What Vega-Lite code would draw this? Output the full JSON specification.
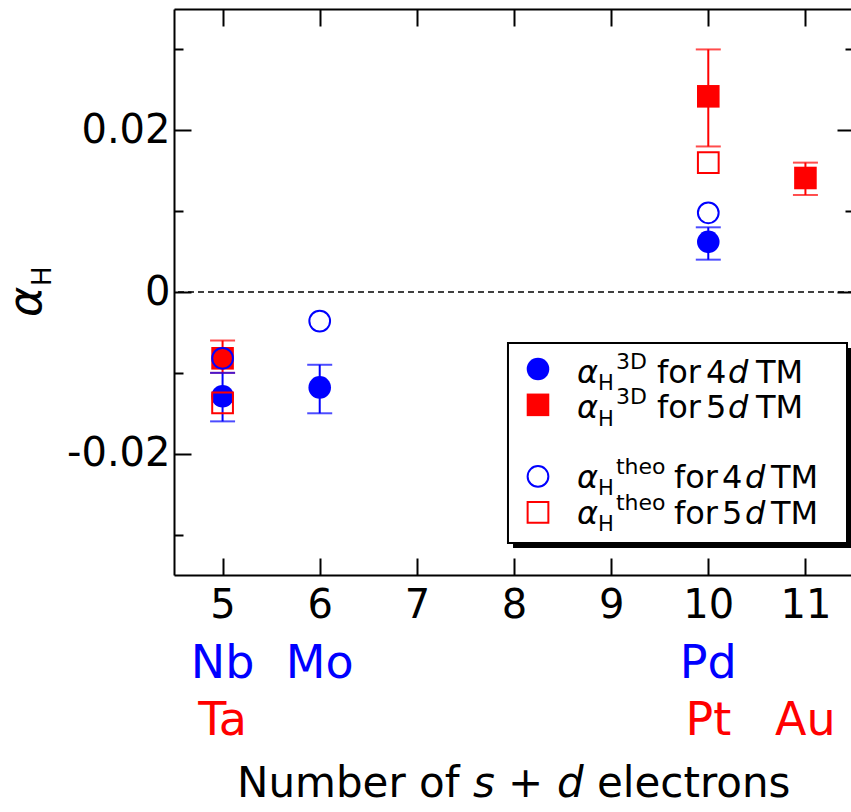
{
  "$schema": "https://vega.github.io/schema/vega-lite/v6.json",
  "width": 680,
  "height": 566,
  "autosize": {"type": "none"},
  "padding": {"left": 174, "top": 9, "right": -3, "bottom": 237},
  "config": {
    "font": "DejaVu Sans",
    "view": {"stroke": null},
    "text": {"font": "DejaVu Sans"},
    "axis": {
      "domainColor": "#000000",
      "domainWidth": 2,
      "tickColor": "#000000",
      "tickWidth": 2,
      "labelColor": "#000000",
      "labelFont": "DejaVu Sans",
      "labelFontSize": 40,
      "grid": false,
      "labelFlush": false,
      "labelOverlap": false,
      "labelBound": false,
      "title": null
    }
  },
  "layer": [
    {
      "data": {
        "values": [
          {"n": 5, "el": "Nb", "nd": "4d", "exp": -0.0129, "lo": -0.016, "hi": -0.010, "theo": -0.0082},
          {"n": 5, "el": "Ta", "nd": "5d", "exp": -0.0082, "lo": -0.010, "hi": -0.006, "theo": -0.0137},
          {"n": 6, "el": "Mo", "nd": "4d", "exp": -0.0118, "lo": -0.015, "hi": -0.009, "theo": -0.0036},
          {"n": 10, "el": "Pd", "nd": "4d", "exp": 0.0062, "lo": 0.004, "hi": 0.008, "theo": 0.0098},
          {"n": 10, "el": "Pt", "nd": "5d", "exp": 0.0242, "lo": 0.018, "hi": 0.030, "theo": 0.016},
          {"n": 11, "el": "Au", "nd": "5d", "exp": 0.0141, "lo": 0.012, "hi": 0.016, "theo": null}
        ]
      },
      "layer": [
        {
          "data": {"values": [{}]},
          "mark": {"type": "rule", "strokeDash": [6, 4], "strokeWidth": 1.5, "color": "#000000"},
          "encoding": {
            "y": {"datum": 0, "type": "quantitative", "scale": {"domain": [-0.035, 0.035], "nice": false, "zero": false}, "axis": null}
          }
        },
        {
          "mark": {"type": "rule", "strokeWidth": 2},
          "encoding": {
            "x": {"field": "n", "type": "quantitative", "scale": {"domain": [4.5, 11.5], "nice": false, "zero": false},
                  "axis": {"orient": "bottom", "values": [5, 6, 7, 8, 9, 10, 11], "format": "d", "tickSize": -17, "labelPadding": 27}},
            "y": {"field": "lo", "type": "quantitative", "scale": {"domain": [-0.035, 0.035], "nice": false, "zero": false},
                  "axis": {"orient": "left", "values": [-0.02, 0, 0.02], "tickSize": -17, "labelPadding": 21,
                           "labelExpr": "datum.value > 0 ? '0.02' : (datum.value < 0 ? '-0.02' : '0')"}},
            "y2": {"field": "hi"},
            "color": {"field": "nd", "type": "nominal", "scale": {"domain": ["4d", "5d"], "range": ["#0000ff", "#ff0000"]}, "legend": null}
          }
        },
        {
          "mark": {"type": "tick", "orient": "horizontal", "size": 25, "thickness": 2},
          "encoding": {
            "x": {"field": "n", "type": "quantitative", "scale": {"domain": [4.5, 11.5], "nice": false, "zero": false},
                  "axis": {"orient": "top", "values": [5, 6, 7, 8, 9, 10, 11], "tickSize": -17, "labels": false}},
            "y": {"field": "lo", "type": "quantitative", "scale": {"domain": [-0.035, 0.035], "nice": false, "zero": false},
                  "axis": {"orient": "right", "values": [-0.02, 0, 0.02], "tickSize": -17, "labels": false}},
            "color": {"field": "nd", "type": "nominal", "scale": {"domain": ["4d", "5d"], "range": ["#0000ff", "#ff0000"]}, "legend": null}
          }
        },
        {
          "mark": {"type": "tick", "orient": "horizontal", "size": 25, "thickness": 2},
          "encoding": {
            "x": {"field": "n", "type": "quantitative", "scale": {"domain": [4.5, 11.5], "nice": false, "zero": false}, "axis": null},
            "y": {"field": "hi", "type": "quantitative", "scale": {"domain": [-0.035, 0.035], "nice": false, "zero": false},
                  "axis": {"orient": "left", "values": [-0.03, -0.01, 0.01, 0.03], "tickSize": -9, "labels": false, "domain": false}},
            "color": {"field": "nd", "type": "nominal", "scale": {"domain": ["4d", "5d"], "range": ["#0000ff", "#ff0000"]}, "legend": null}
          }
        },
        {
          "mark": {"type": "point", "filled": true, "size": 510, "opacity": 1},
          "encoding": {
            "x": {"field": "n", "type": "quantitative", "scale": {"domain": [4.5, 11.5], "nice": false, "zero": false}, "axis": null},
            "y": {"field": "exp", "type": "quantitative", "scale": {"domain": [-0.035, 0.035], "nice": false, "zero": false},
                  "axis": {"orient": "right", "values": [-0.03, -0.01, 0.01, 0.03], "tickSize": -9, "labels": false, "domain": false}},
            "color": {"field": "nd", "type": "nominal", "scale": {"domain": ["4d", "5d"], "range": ["#0000ff", "#ff0000"]}, "legend": null},
            "shape": {"field": "nd", "type": "nominal", "scale": {"domain": ["4d", "5d"], "range": ["circle", "square"]}, "legend": null}
          }
        },
        {
          "transform": [{"filter": "isValid(datum.theo)"}],
          "mark": {"type": "point", "filled": false, "size": 430, "strokeWidth": 2, "opacity": 1},
          "encoding": {
            "x": {"field": "n", "type": "quantitative", "scale": {"domain": [4.5, 11.5], "nice": false, "zero": false}, "axis": null},
            "y": {"field": "theo", "type": "quantitative", "scale": {"domain": [-0.035, 0.035], "nice": false, "zero": false}, "axis": null},
            "color": {"field": "nd", "type": "nominal", "scale": {"domain": ["4d", "5d"], "range": ["#0000ff", "#ff0000"]}, "legend": null},
            "shape": {"field": "nd", "type": "nominal", "scale": {"domain": ["4d", "5d"], "range": ["circle", "square"]}, "legend": null}
          }
        },
        {
          "transform": [{"filter": "datum.nd == '4d'"}],
          "mark": {"type": "text", "fontSize": 46, "align": "center", "baseline": "alphabetic"},
          "encoding": {
            "x": {"field": "n", "type": "quantitative", "scale": {"domain": [4.5, 11.5], "nice": false, "zero": false}, "axis": null},
            "y": {"datum": -0.04774, "type": "quantitative", "scale": {"domain": [-0.035, 0.035], "nice": false, "zero": false}, "axis": null},
            "text": {"field": "el"},
            "color": {"field": "nd", "type": "nominal", "scale": {"domain": ["4d", "5d"], "range": ["#0000ff", "#ff0000"]}, "legend": null}
          }
        },
        {
          "transform": [{"filter": "datum.nd == '5d'"}],
          "mark": {"type": "text", "fontSize": 46, "align": "center", "baseline": "alphabetic"},
          "encoding": {
            "x": {"field": "n", "type": "quantitative", "scale": {"domain": [4.5, 11.5], "nice": false, "zero": false}, "axis": null},
            "y": {"datum": -0.05479, "type": "quantitative", "scale": {"domain": [-0.035, 0.035], "nice": false, "zero": false}, "axis": null},
            "text": {"field": "el"},
            "color": {"field": "nd", "type": "nominal", "scale": {"domain": ["4d", "5d"], "range": ["#0000ff", "#ff0000"]}, "legend": null}
          }
        },
        {
          "data": {"values": [{}]},
          "mark": {"type": "text", "text": "α", "angle": 270, "align": "left", "baseline": "alphabetic", "fontSize": 46, "fontStyle": "italic", "color": "#000000"},
          "encoding": {
            "x": {"datum": 3.1309, "type": "quantitative", "scale": {"domain": [4.5, 11.5], "nice": false, "zero": false}, "axis": null},
            "y": {"datum": -0.00309, "type": "quantitative", "scale": {"domain": [-0.035, 0.035], "nice": false, "zero": false}, "axis": null}
          }
        },
        {
          "data": {"values": [{}]},
          "mark": {"type": "text", "text": "H", "angle": 270, "align": "left", "baseline": "alphabetic", "fontSize": 26, "dx": 31, "dy": 10, "color": "#000000"},
          "encoding": {
            "x": {"datum": 3.1309, "type": "quantitative", "scale": {"domain": [4.5, 11.5], "nice": false, "zero": false}, "axis": null},
            "y": {"datum": -0.00309, "type": "quantitative", "scale": {"domain": [-0.035, 0.035], "nice": false, "zero": false}, "axis": null}
          }
        },
        {
          "data": {"values": [{"t": "Number of"}, {"t": "s"}, {"t": "+"}, {"t": "d"}, {"t": "electrons"}]},
          "layer": [
            {
              "transform": [{"filter": "datum.t == 'Number of'"}],
              "mark": {"type": "text", "align": "left", "baseline": "alphabetic", "fontSize": 42, "color": "#000000"},
              "encoding": {
                "x": {"datum": 5.1486, "type": "quantitative", "scale": {"domain": [4.5, 11.5], "nice": false, "zero": false}, "axis": null},
                "y": {"datum": -0.06245, "type": "quantitative", "scale": {"domain": [-0.035, 0.035], "nice": false, "zero": false}, "axis": null},
                "text": {"field": "t"}
              }
            },
            {
              "transform": [{"filter": "datum.t == 's'"}],
              "mark": {"type": "text", "align": "left", "baseline": "alphabetic", "fontSize": 42, "fontStyle": "italic", "dx": 236, "color": "#000000"},
              "encoding": {
                "x": {"datum": 5.1486, "type": "quantitative", "scale": {"domain": [4.5, 11.5], "nice": false, "zero": false}, "axis": null},
                "y": {"datum": -0.06245, "type": "quantitative", "scale": {"domain": [-0.035, 0.035], "nice": false, "zero": false}, "axis": null},
                "text": {"field": "t"}
              }
            },
            {
              "transform": [{"filter": "datum.t == '+'"}],
              "mark": {"type": "text", "align": "left", "baseline": "alphabetic", "fontSize": 42, "dx": 271, "color": "#000000"},
              "encoding": {
                "x": {"datum": 5.1486, "type": "quantitative", "scale": {"domain": [4.5, 11.5], "nice": false, "zero": false}, "axis": null},
                "y": {"datum": -0.06245, "type": "quantitative", "scale": {"domain": [-0.035, 0.035], "nice": false, "zero": false}, "axis": null},
                "text": {"field": "t"}
              }
            },
            {
              "transform": [{"filter": "datum.t == 'd'"}],
              "mark": {"type": "text", "align": "left", "baseline": "alphabetic", "fontSize": 42, "fontStyle": "italic", "dx": 320, "color": "#000000"},
              "encoding": {
                "x": {"datum": 5.1486, "type": "quantitative", "scale": {"domain": [4.5, 11.5], "nice": false, "zero": false}, "axis": null},
                "y": {"datum": -0.06245, "type": "quantitative", "scale": {"domain": [-0.035, 0.035], "nice": false, "zero": false}, "axis": null},
                "text": {"field": "t"}
              }
            },
            {
              "transform": [{"filter": "datum.t == 'electrons'"}],
              "mark": {"type": "text", "align": "left", "baseline": "alphabetic", "fontSize": 42, "dx": 360, "color": "#000000"},
              "encoding": {
                "x": {"datum": 5.1486, "type": "quantitative", "scale": {"domain": [4.5, 11.5], "nice": false, "zero": false}, "axis": null},
                "y": {"datum": -0.06245, "type": "quantitative", "scale": {"domain": [-0.035, 0.035], "nice": false, "zero": false}, "axis": null},
                "text": {"field": "t"}
              }
            }
          ]
        }
      ],
      "resolve": {"axis": {"x": "independent", "y": "independent"}}
    },
    {
      "data": {
        "values": [
          {"slot": 0, "kind": "3D", "nd": "4d", "num": "4"},
          {"slot": 1, "kind": "3D", "nd": "5d", "num": "5"},
          {"slot": 3, "kind": "theo", "nd": "4d", "num": "4"},
          {"slot": 4, "kind": "theo", "nd": "5d", "num": "5"}
        ]
      },
      "layer": [
        {
          "data": {"values": [{}]},
          "mark": {"type": "rect", "color": "#000000"},
          "encoding": {
            "x": {"datum": 7.99, "type": "quantitative", "scale": {"domain": [4.5, 11.5], "nice": false, "zero": false}, "axis": null},
            "x2": {"datum": 11.48},
            "y": {"datum": -0.586, "type": "quantitative", "scale": {"domain": [-10.05, 5.75], "reverse": true, "nice": false, "zero": false}, "axis": null},
            "y2": {"datum": 4.998}
          }
        },
        {
          "data": {"values": [{}]},
          "mark": {"type": "rect", "fill": "#ffffff", "stroke": "#000000", "strokeWidth": 2},
          "encoding": {
            "x": {"datum": 7.938, "type": "quantitative", "scale": {"domain": [4.5, 11.5], "nice": false, "zero": false}, "axis": null},
            "x2": {"datum": 11.428},
            "y": {"datum": -0.726, "type": "quantitative", "scale": {"domain": [-10.05, 5.75], "reverse": true, "nice": false, "zero": false}, "axis": null},
            "y2": {"datum": 4.858}
          }
        },
        {
          "transform": [{"filter": "datum.kind == '3D'"}],
          "mark": {"type": "point", "filled": true, "size": 510, "opacity": 1},
          "encoding": {
            "x": {"datum": 8.247, "type": "quantitative", "scale": {"domain": [4.5, 11.5], "nice": false, "zero": false}, "axis": null},
            "y": {"field": "slot", "type": "quantitative", "scale": {"domain": [-10.05, 5.75], "reverse": true, "nice": false, "zero": false}, "axis": null},
            "color": {"field": "nd", "type": "nominal", "scale": {"domain": ["4d", "5d"], "range": ["#0000ff", "#ff0000"]}, "legend": null},
            "shape": {"field": "nd", "type": "nominal", "scale": {"domain": ["4d", "5d"], "range": ["circle", "square"]}, "legend": null}
          }
        },
        {
          "transform": [{"filter": "datum.kind == 'theo'"}],
          "mark": {"type": "point", "filled": false, "size": 430, "strokeWidth": 2, "opacity": 1},
          "encoding": {
            "x": {"datum": 8.247, "type": "quantitative", "scale": {"domain": [4.5, 11.5], "nice": false, "zero": false}, "axis": null},
            "y": {"field": "slot", "type": "quantitative", "scale": {"domain": [-10.05, 5.75], "reverse": true, "nice": false, "zero": false}, "axis": null},
            "color": {"field": "nd", "type": "nominal", "scale": {"domain": ["4d", "5d"], "range": ["#0000ff", "#ff0000"]}, "legend": null},
            "shape": {"field": "nd", "type": "nominal", "scale": {"domain": ["4d", "5d"], "range": ["circle", "square"]}, "legend": null}
          }
        },
        {
          "transform": [{"filter": "datum.kind == '3D'"}],
          "encoding": {
            "x": {"datum": 8.247, "type": "quantitative", "scale": {"domain": [4.5, 11.5], "nice": false, "zero": false}, "axis": null},
            "y": {"field": "slot", "type": "quantitative", "scale": {"domain": [-10.05, 5.75], "reverse": true, "nice": false, "zero": false}, "axis": null}
          },
          "layer": [
            {"mark": {"type": "text", "text": "α", "align": "left", "baseline": "alphabetic", "fontSize": 32, "fontStyle": "italic", "dx": 39, "dy": 13.5, "color": "#000000"}},
            {"mark": {"type": "text", "text": "H", "align": "left", "baseline": "alphabetic", "fontSize": 21, "dx": 60, "dy": 21, "color": "#000000"}},
            {"mark": {"type": "text", "align": "left", "baseline": "alphabetic", "fontSize": 22, "dx": 78, "dy": -0.5, "color": "#000000"}, "encoding": {"text": {"field": "kind"}}},
            {"mark": {"type": "text", "text": "for", "align": "left", "baseline": "alphabetic", "fontSize": 32, "dx": 119, "dy": 13.5, "color": "#000000"}},
            {"mark": {"type": "text", "align": "left", "baseline": "alphabetic", "fontSize": 32, "dx": 168, "dy": 13.5, "color": "#000000"}, "encoding": {"text": {"field": "num"}}},
            {"mark": {"type": "text", "text": "d", "align": "left", "baseline": "alphabetic", "fontSize": 32, "fontStyle": "italic", "dx": 190, "dy": 13.5, "color": "#000000"}},
            {"mark": {"type": "text", "text": "TM", "align": "left", "baseline": "alphabetic", "fontSize": 32, "dx": 218, "dy": 13.5, "color": "#000000"}}
          ]
        },
        {
          "transform": [{"filter": "datum.kind == 'theo'"}],
          "encoding": {
            "x": {"datum": 8.247, "type": "quantitative", "scale": {"domain": [4.5, 11.5], "nice": false, "zero": false}, "axis": null},
            "y": {"field": "slot", "type": "quantitative", "scale": {"domain": [-10.05, 5.75], "reverse": true, "nice": false, "zero": false}, "axis": null}
          },
          "layer": [
            {"mark": {"type": "text", "text": "α", "align": "left", "baseline": "alphabetic", "fontSize": 32, "fontStyle": "italic", "dx": 39, "dy": 11.5, "color": "#000000"}},
            {"mark": {"type": "text", "text": "H", "align": "left", "baseline": "alphabetic", "fontSize": 21, "dx": 60, "dy": 19, "color": "#000000"}},
            {"mark": {"type": "text", "align": "left", "baseline": "alphabetic", "fontSize": 22, "dx": 78, "dy": -2, "color": "#000000"}, "encoding": {"text": {"field": "kind"}}},
            {"mark": {"type": "text", "text": "for", "align": "left", "baseline": "alphabetic", "fontSize": 32, "dx": 136, "dy": 11.5, "color": "#000000"}},
            {"mark": {"type": "text", "align": "left", "baseline": "alphabetic", "fontSize": 32, "dx": 184, "dy": 11.5, "color": "#000000"}, "encoding": {"text": {"field": "num"}}},
            {"mark": {"type": "text", "text": "d", "align": "left", "baseline": "alphabetic", "fontSize": 32, "fontStyle": "italic", "dx": 207, "dy": 11.5, "color": "#000000"}},
            {"mark": {"type": "text", "text": "TM", "align": "left", "baseline": "alphabetic", "fontSize": 32, "dx": 233, "dy": 11.5, "color": "#000000"}}
          ]
        }
      ]
    }
  ],
  "resolve": {"scale": {"y": "independent"}, "axis": {"x": "independent", "y": "independent"}}
}
